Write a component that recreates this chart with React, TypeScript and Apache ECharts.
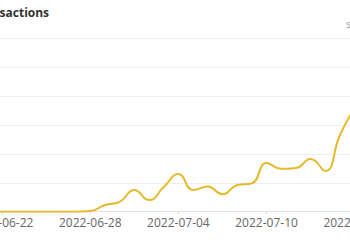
import React, { useEffect, useRef } from "react";
import * as echarts from "echarts";

const dates = [
  "2022-06-16", "2022-06-17", "2022-06-18", "2022-06-19", "2022-06-20", "2022-06-21",
  "2022-06-22", "2022-06-23", "2022-06-24", "2022-06-25", "2022-06-26", "2022-06-27",
  "2022-06-28", "2022-06-29", "2022-06-30", "2022-07-01", "2022-07-02", "2022-07-03",
  "2022-07-04", "2022-07-05", "2022-07-06", "2022-07-07", "2022-07-08", "2022-07-09",
  "2022-07-10", "2022-07-11", "2022-07-12", "2022-07-13", "2022-07-14", "2022-07-15",
  "2022-07-16",
];
const transactions = [
  0, 0, 0, 0, 0, 0,
  0, 0, 0, 0, 0, 0,
  2, 23, 34, 75, 40, 85,
  130, 75, 87, 60, 92, 98,
  168, 148, 151, 182, 141, 265,
  360,
];
const titleText = "Transactions";
const cornerText = "s";

export default function App() {
  const ref = useRef<HTMLDivElement>(null);
  useEffect(() => {
    if (!ref.current) return;
    const chart = echarts.init(ref.current, undefined, { renderer: "svg" });
    chart.setOption({
      animation: false,
      title: {
        text: titleText,
        left: 95,
        top: 1,
        textStyle: { fontSize: 12, fontWeight: "bold", color: "#333", fontFamily: "Open Sans" },
      },
      graphic: [
        {
          type: "text",
          left: 474,
          top: 19,
          style: { text: cornerText, fontSize: 10, fill: "#999", fontFamily: "Open Sans" },
        },
      ],
      grid: { left: 42, top: 38, width: 455, height: 173.7 },
      xAxis: {
        type: "category",
        data: dates,
        boundaryGap: false,
        axisLine: { lineStyle: { color: "#E3E6EB" } },
        axisTick: { interval: 5, length: 3, lineStyle: { color: "#D8DBE0" } },
        axisLabel: {
          interval: 5,
          margin: 5,
          fontSize: 12,
          color: "#666",
          fontFamily: "Open Sans",
        },
      },
      yAxis: {
        type: "value",
        min: 0,
        max: 600,
        interval: 100,
        axisLabel: { show: false },
        splitLine: { lineStyle: { color: "#ECEEF2" } },
      },
      series: [
        {
          type: "line",
          data: transactions,
          smooth: 0.5,
          showSymbol: false,
          lineStyle: { width: 2, color: "#E5B92B" },
          itemStyle: { color: "#E5B92B" },
        },
      ],
    });
    return () => chart.dispose();
  }, []);
  return (
    <div style={{ position: "fixed", left: 0, top: 0, width: 350, height: 250, overflow: "hidden", background: "#fff" }}>
      <div ref={ref} style={{ position: "absolute", left: -128, top: 0, width: 517, height: 250 }} />
    </div>
  );
}
